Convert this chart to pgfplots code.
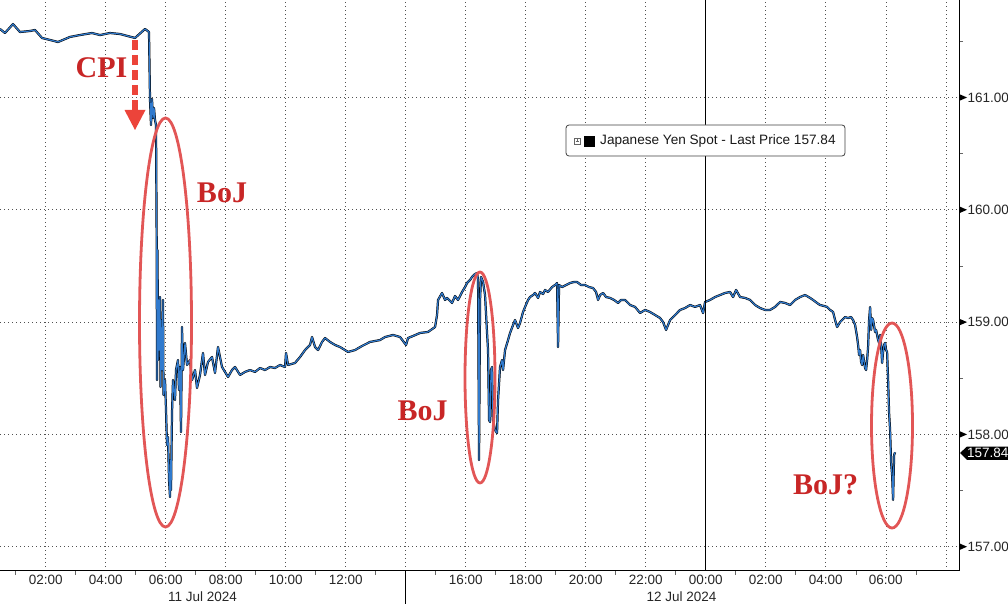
\documentclass[border=0pt]{standalone}
\usepackage{pgfplots}
\pgfplotsset{compat=1.18}
\usepackage{pgfplotstable}
\usepackage{fontspec}
\setmainfont{Liberation Sans}
\newfontfamily\serifb{Liberation Serif}
\definecolor{bjred}{RGB}{200,38,38}
\definecolor{ellred}{RGB}{226,86,86}
\definecolor{arrred}{RGB}{236,68,58}
\definecolor{lineblue}{RGB}{48,122,205}
\definecolor{gridc}{RGB}{80,80,80}

\pgfplotstableread{
h p
0.477 161.610
0.643 161.574
0.910 161.654
1.143 161.583
1.477 161.592
1.643 161.601
1.877 161.530
2.143 161.512
2.410 161.494
2.810 161.539
3.143 161.556
3.543 161.574
3.810 161.556
4.143 161.574
4.477 161.565
4.977 161.530
5.310 161.610
5.443 161.583
5.477 160.978
5.510 160.755
5.543 160.986
5.577 160.817
5.610 160.906
5.643 160.800
5.677 160.755
5.700 159.668
5.710 158.484
5.727 159.642
5.743 158.662
5.760 159.197
5.777 158.751
5.810 159.223
5.827 158.422
5.843 159.018
5.877 158.573
5.910 159.197
5.927 158.351
5.977 158.484
6.010 158.217
6.043 157.905
6.077 157.976
6.110 157.594
6.143 157.442
6.160 157.772
6.177 157.505
6.210 158.190
6.243 158.484
6.310 158.306
6.343 158.573
6.410 158.662
6.443 158.395
6.477 158.600
6.510 158.021
6.543 158.956
6.577 158.573
6.643 158.814
6.710 158.618
6.810 158.662
6.877 158.484
6.977 158.573
7.043 158.413
7.143 158.529
7.243 158.725
7.310 158.529
7.410 158.645
7.543 158.689
7.643 158.547
7.743 158.778
7.877 158.600
7.977 158.556
8.077 158.511
8.210 158.573
8.310 158.600
8.477 158.529
8.643 158.556
8.810 158.573
8.977 158.556
9.143 158.591
9.310 158.573
9.477 158.600
9.643 158.591
9.810 158.618
9.977 158.600
10.010 158.725
10.077 158.618
10.310 158.636
10.477 158.689
10.643 158.751
10.810 158.796
10.877 158.867
10.977 158.778
11.077 158.751
11.210 158.823
11.310 158.858
11.477 158.823
11.643 158.796
11.810 158.778
12.077 158.734
12.310 158.751
12.543 158.787
12.810 158.823
13.143 158.840
13.310 158.867
13.577 158.885
13.810 158.867
14.010 158.796
14.077 158.858
14.243 158.876
14.477 158.903
14.743 158.912
14.977 158.956
15.043 159.063
15.077 159.197
15.210 159.259
15.310 159.197
15.377 159.215
15.543 159.170
15.643 159.232
15.743 159.197
15.877 159.268
15.977 159.312
16.043 159.348
16.143 159.375
16.210 159.402
16.310 159.428
16.377 159.437
16.410 159.375
16.443 157.772
16.477 159.197
16.510 159.402
16.577 159.357
16.643 159.241
16.710 158.903
16.743 158.751
16.777 158.128
16.810 158.110
16.843 158.573
16.877 158.600
16.910 158.128
16.977 158.039
17.043 158.012
17.077 158.306
17.143 158.600
17.210 158.662
17.243 158.573
17.310 158.751
17.410 158.840
17.477 158.903
17.577 158.974
17.643 159.018
17.743 158.947
17.810 158.992
17.910 159.090
17.977 159.135
18.077 159.197
18.143 159.223
18.243 159.241
18.310 159.259
18.410 159.215
18.477 159.268
18.577 159.250
18.643 159.286
18.743 159.268
18.877 159.312
18.977 159.330
19.043 159.348
19.077 158.778
19.110 159.330
19.210 159.312
19.343 159.330
19.477 159.348
19.610 159.357
19.710 159.357
19.843 159.330
19.977 159.330
20.110 159.312
20.243 159.303
20.343 159.268
20.410 159.197
20.477 159.241
20.577 159.259
20.677 159.223
20.810 159.215
20.943 159.197
21.077 159.170
21.177 159.197
21.310 159.197
21.477 159.152
21.643 159.135
21.810 159.081
21.977 159.108
22.143 159.090
22.310 159.063
22.477 159.036
22.577 159.000
22.677 158.930
22.743 158.974
22.810 159.018
22.977 159.063
23.143 159.108
23.310 159.125
23.477 159.152
23.643 159.135
23.810 159.152
23.910 159.080
23.977 159.179
24.143 159.197
24.310 159.223
24.477 159.241
24.643 159.259
24.810 159.268
24.910 159.223
25.010 159.286
25.143 159.223
25.310 159.215
25.477 159.197
25.643 159.152
25.810 159.125
25.977 159.108
26.143 159.108
26.310 159.135
26.477 159.179
26.643 159.170
26.810 159.152
26.977 159.197
27.143 159.223
27.310 159.241
27.477 159.215
27.577 159.197
27.710 159.170
27.810 159.152
27.943 159.143
28.043 159.135
28.143 159.108
28.243 159.090
28.310 159.018
28.377 158.956
28.477 159.000
28.543 159.018
28.643 159.045
28.743 159.036
28.843 159.045
28.910 159.018
28.977 158.974
29.043 158.867
29.077 158.796
29.110 158.707
29.143 158.751
29.177 158.644
29.210 158.618
29.243 158.707
29.310 158.591
29.343 158.573
29.377 158.662
29.410 158.778
29.443 159.018
29.477 159.134
29.510 158.930
29.543 159.036
29.577 159.018
29.643 158.912
29.677 158.930
29.743 158.840
29.777 158.814
29.810 158.885
29.843 158.796
29.877 158.636
29.910 158.734
29.943 158.796
29.977 158.814
30.010 158.751
30.043 158.734
30.077 158.484
30.110 158.190
30.143 158.039
30.177 157.745
30.210 157.638
30.243 157.416
30.277 157.817
30.310 157.840
}\yen

\begin{document}
\begin{tikzpicture}
\useasboundingbox (0,0) rectangle (1008pt,-604pt);
\begin{axis}[
  at={(0pt,0pt)}, anchor=north west,
  scale only axis, width=959pt, height=570.7pt,
  xmin=0.477, xmax=32.44, ymin=156.786, ymax=161.868,
  axis x line*=bottom, axis y line*=right,
  axis line style={-, black, line width=0.9pt},
  xtick={2,4,...,32},
  xticklabels={02:00,04:00,06:00,08:00,10:00,12:00,,16:00,18:00,20:00,22:00,00:00,02:00,04:00,06:00,},
  minor xtick={1,3,...,31},
  ytick={157,158,159,160,161},
  minor ytick={157.5,158.5,159.5,160.5,161.5},
  /pgf/number format/assume math mode=true,
  y tick label style={/pgf/number format/fixed,/pgf/number format/fixed zerofill,/pgf/number format/precision=2, xshift=5pt},
  tick label style={font=\fontsize{13.5}{15}\selectfont, text=black!85},
  x tick label style={yshift=-1pt},
  major tick length=0pt, minor tick length=4pt, tick align=outside,
  minor tick style={black!60, line width=0.6pt},
  xmajorgrids, ymajorgrids,
  major grid style={dash pattern=on 1pt off 3pt, gridc, line width=0.6pt},
]
\addplot[black, line width=2.2pt, line join=round] table[x=h,y=p]{\yen};
\addplot[lineblue, line width=1.2pt, line join=round] table[x=h,y=p]{\yen};
\end{axis}
\begin{scope}[x=1pt,y=-1pt]
  % right axis markers
  \foreach \yy in {97.5,209.8,322.1,434.4,546.7}{
    \fill[black] (959,\yy-3.5) -- (967,\yy) -- (959,\yy+3.5) -- cycle;
  }
  % vertical day line
  \draw[black, line width=0.9pt] (705.7,0) -- (705.7,570.7);
  % separator below axis
  \draw[black, line width=0.9pt] (405.7,570.7) -- (405.7,604);
  % date labels
  \node[font=\fontsize{13.5}{15}\selectfont, text=black!85] at (202.5,597) {11 Jul 2024};
  \node[font=\fontsize{13.5}{15}\selectfont, text=black!85] at (681.5,597) {12 Jul 2024};
  % ellipses
  \draw[ellred, line width=2.8pt] (165.5,322.5) ellipse (26 and 204.5);
  \draw[ellred, line width=2.8pt] (480,377.5) ellipse (15 and 105.5);
  \draw[ellred, line width=2.8pt] (892,425.5) ellipse (20.5 and 102.5);
  % texts
  \node[bjred, font=\serifb\bfseries\fontsize{30}{30}\selectfont] at (101.5,68) {CPI};
  \node[bjred, font=\serifb\bfseries\fontsize{30}{30}\selectfont] at (222,193) {BoJ};
  \node[bjred, font=\serifb\bfseries\fontsize{30}{30}\selectfont] at (422.5,411) {BoJ};
  \node[bjred, font=\serifb\bfseries\fontsize{30}{30}\selectfont] at (825.5,485) {BoJ?};
  % CPI arrow
  \draw[arrred, line width=6.5pt, dash pattern=on 10pt off 5pt] (135,40) -- (135,110);
  \fill[arrred] (124.5,110) -- (145.5,110) -- (135,130) -- cycle;
  % legend
  \draw[rounded corners=3pt, black!75, fill=white, line width=0.8pt] (566,125) rectangle (845,156);
  \draw[black!60, line width=0.5pt] (574,138) rectangle (580,144);
  \draw[black!60, line width=0.4pt] (575.5,141) -- (578.5,141) (577,139.5) -- (577,142.5);
  \fill[black] (584,136) rectangle (595,147);
  \node[anchor=west, inner sep=0pt, font=\fontsize{13.6}{15}\selectfont, text=black!90] at (600,141) {Japanese Yen Spot - Last Price 157.84};
  % last price tag
  \fill[black] (960,453) -- (967,446.5) -- (1008,446.5) -- (1008,459.8) -- (967,459.8) -- cycle;
  \node[anchor=west, inner sep=0pt, font=\fontsize{13.5}{15}\selectfont, text=white] at (967,453.3) {157.84};
\end{scope}
\end{tikzpicture}
\end{document}
